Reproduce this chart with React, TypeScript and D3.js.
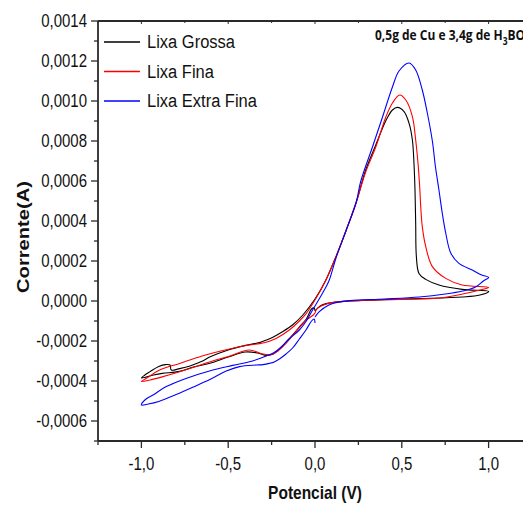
import React from "react";
import * as d3 from "d3";

type Pt = [number, number];

// Lixa Grossa (black): start at 0 V, cathodic branch to -1 V, anodic branch to +1 V, return to 0 V
const lixaGrossa: Pt[] = [
  [0.0, -0.00005], [-0.005, -0.000035], [-0.02, -0.00004], [-0.05, -0.00009], [-0.09, -0.00013],
  [-0.15, -0.00019], [-0.2, -0.000235], [-0.24, -0.000265], [-0.28, -0.000272], [-0.33, -0.00026],
  [-0.4, -0.000255], [-0.5, -0.00028], [-0.6, -0.00031], [-0.7, -0.00033], [-0.78, -0.000352],
  [-0.88, -0.000362], [-0.93, -0.00037], [-1.0, -0.000385],
  [-0.98, -0.00037], [-0.95, -0.000353], [-0.9, -0.000327], [-0.86, -0.000318], [-0.835, -0.00032],
  [-0.828, -0.000345], [-0.78, -0.000338], [-0.72, -0.000325], [-0.655, -0.000303], [-0.6, -0.000278],
  [-0.5, -0.000245], [-0.4, -0.000222], [-0.32, -0.000208], [-0.28, -0.000195], [-0.24, -0.00018],
  [-0.19, -0.000155], [-0.13, -0.00012], [-0.07, -0.00007], [0.0, 0.00001], [0.06, 0.0001],
  [0.12, 0.00022], [0.18, 0.000355], [0.24, 0.0005], [0.29, 0.00065], [0.35, 0.00078],
  [0.41, 0.000905], [0.446, 0.000955], [0.475, 0.000968], [0.513, 0.000947], [0.542, 0.000888],
  [0.561, 0.000805], [0.571, 0.000672], [0.576, 0.000555], [0.58, 0.000388], [0.584, 0.000222],
  [0.599, 0.000138], [0.638, 0.000108], [0.714, 0.00008], [0.848, 0.000058], [1.0, 0.000048],
  [0.95, 0.00003], [0.85, 0.00002], [0.6, 0.000012], [0.4, 0.000007], [0.2, 0.0],
  [0.12, -0.000005], [0.07, -0.000012], [0.03, -0.000025], [0.0, -0.00005],
];

// Lixa Fina (red)
const lixaFina: Pt[] = [
  [0.0, -0.00006], [-0.01, -0.00007], [-0.05, -0.000095], [-0.11, -0.000153], [-0.167, -0.000212],
  [-0.224, -0.000257], [-0.253, -0.000268], [-0.3, -0.000265], [-0.38, -0.000245], [-0.49, -0.000275],
  [-0.59, -0.0003], [-0.72, -0.000337], [-0.876, -0.000378], [-0.95, -0.000395], [-1.0, -0.000403],
  [-0.96, -0.00038], [-0.895, -0.000345], [-0.78, -0.000312], [-0.65, -0.000275], [-0.493, -0.00024],
  [-0.38, -0.00022], [-0.3, -0.00021], [-0.224, -0.000187], [-0.148, -0.000145], [-0.09, -0.0001],
  [-0.05, -0.000062], [0.0, 0.000005], [0.06, 0.0001], [0.12, 0.00022], [0.18, 0.000355],
  [0.24, 0.0005], [0.29, 0.00064], [0.35, 0.00077], [0.408, 0.00092], [0.446, 0.00099],
  [0.488, 0.00103], [0.523, 0.001005], [0.561, 0.000922], [0.58, 0.000805], [0.595, 0.000672],
  [0.603, 0.000572], [0.609, 0.000472], [0.618, 0.000372], [0.638, 0.000272], [0.676, 0.000172],
  [0.753, 0.000113], [0.848, 0.00008], [1.0, 0.000068],
  [0.95, 0.000055], [0.85, 0.000035], [0.72, 0.000015], [0.6, 0.00001], [0.4, 0.000006],
  [0.2, 0.0], [0.1, -0.000008], [0.05, -0.00002], [0.01, -0.00004], [0.0, -0.00006],
];

// Lixa Extra Fina (blue)
const lixaExtraFina: Pt[] = [
  [0.0, -0.00011], [-0.005, -0.00009], [-0.02, -0.0001], [-0.052, -0.000145], [-0.09, -0.00019],
  [-0.129, -0.000235], [-0.167, -0.000265], [-0.205, -0.00029], [-0.235, -0.000305], [-0.263, -0.000312],
  [-0.3, -0.000318], [-0.339, -0.00032], [-0.435, -0.000328], [-0.511, -0.00035], [-0.6, -0.00039],
  [-0.7, -0.00043], [-0.8, -0.000468], [-0.9, -0.000502], [-0.96, -0.000515], [-1.0, -0.00052],
  [-0.98, -0.000495], [-0.933, -0.00047], [-0.857, -0.000428], [-0.743, -0.000387], [-0.608, -0.00035],
  [-0.474, -0.000322], [-0.36, -0.0003], [-0.28, -0.000275], [-0.24, -0.00026], [-0.2, -0.000235],
  [-0.15, -0.00019], [-0.09, -0.000145], [-0.05, -0.0001], [-0.014, -0.000045], [0.044, 0.00004],
  [0.08, 0.0001], [0.121, 0.000215], [0.178, 0.00035], [0.236, 0.00049], [0.264, 0.0006],
  [0.331, 0.00077], [0.389, 0.00092], [0.446, 0.00107], [0.484, 0.00115], [0.542, 0.00119],
  [0.58, 0.001155], [0.618, 0.001055], [0.647, 0.00094], [0.676, 0.0008], [0.694, 0.00067],
  [0.714, 0.000555], [0.733, 0.00044], [0.753, 0.00034], [0.782, 0.00024], [0.829, 0.000188],
  [0.906, 0.000155], [0.96, 0.00013], [1.0, 0.000118],
  [0.97, 0.0001], [0.925, 0.00007], [0.85, 0.00005], [0.75, 0.000035], [0.6, 0.00002],
  [0.4, 0.00001], [0.2, 0.000002], [0.12, -0.000008], [0.08, -0.00002], [0.025, -0.000053],
  [0.0, -0.00008],
];

const seriesNames = ["Lixa Grossa", "Lixa Fina", "Lixa Extra Fina"];
const seriesColors = ["#000000", "#ff0000", "#0000ff"];
const seriesData = [lixaGrossa, lixaFina, lixaExtraFina];

const xMajorTicks = [-1, -0.5, 0, 0.5, 1];
const xMinorTicks = [-1.25, -0.75, -0.25, 0.25, 0.75, 1.25];
const yMajorTicks = [-0.0006, -0.0004, -0.0002, 0, 0.0002, 0.0004, 0.0006, 0.0008, 0.001, 0.0012, 0.0014];
const yMinorTicks = [-0.0007, -0.0005, -0.0003, -0.0001, 0.0001, 0.0003, 0.0005, 0.0007, 0.0009, 0.0011, 0.0013];

const xTitle = "Potencial (V)";
const yTitle = "Corrente(A)";
const annotation = ["0,5g de Cu e 3,4g de H", "3", "BO", "3"];

const W = 523;
const H = 505;
const left = 98;
const top = 21;
const bottom = 441;

const locale = d3.formatLocale({
  decimal: ",",
  thousands: ".",
  grouping: [3],
  currency: ["", ""],
  minus: "-",
});
const fmtX = locale.format(".1f");
const fmtY = locale.format(".4f");

const FONT = "'Liberation Sans', Arial, sans-serif";

export default function App() {
  const x = d3.scaleLinear().domain([-1.25, 1.25]).range([left, left + 434]);
  const y = d3.scaleLinear().domain([-0.0007, 0.0014]).range([bottom, top]);
  const line = d3
    .line<Pt>()
    .x((d) => x(d[0]))
    .y((d) => y(d[1]))
    .curve(d3.curveCatmullRom.alpha(0.5));

  const axisColor = "#2a2a2a";
  const sy = 1.2;

  return (
    <svg
      width={W}
      height={H}
      style={{ position: "absolute", left: 0, top: 0, background: "#fff" }}
    >
      <rect x={0} y={0} width={W} height={H} fill="#fff" />
      {/* data */}
      {seriesData.map((s, i) => (
        <path key={i} d={line(s) || ""} fill="none" stroke={seriesColors[i]} strokeWidth={1.1} />
      ))}

      {/* axes */}
      <line x1={left} x2={W + 20} y1={top} y2={top} stroke={axisColor} strokeWidth={1.8} />
      <line x1={left} x2={W + 20} y1={bottom} y2={bottom} stroke={axisColor} strokeWidth={1.8} />
      <line x1={left} x2={left} y1={top} y2={bottom} stroke={axisColor} strokeWidth={1.8} />

      {xMajorTicks.map((t) => (
        <g key={"xm" + t}>
          <line x1={x(t)} x2={x(t)} y1={bottom} y2={bottom + 7} stroke={axisColor} strokeWidth={1.3} />
          <line x1={x(t)} x2={x(t)} y1={top} y2={top + 3} stroke={axisColor} strokeWidth={1} />
          <text
            transform={`translate(${x(t)},${bottom + 29}) scale(1,${sy})`}
            textAnchor="middle"
            fontFamily={FONT}
            fontSize={15}
            fill="#111"
          >
            {fmtX(t)}
          </text>
        </g>
      ))}
      {xMinorTicks.map((t) => (
        <g key={"xn" + t}>
          <line x1={x(t)} x2={x(t)} y1={bottom} y2={bottom + 4} stroke={axisColor} strokeWidth={1.3} />
          <line x1={x(t)} x2={x(t)} y1={top} y2={top + 2} stroke={axisColor} strokeWidth={1} />
        </g>
      ))}
      {yMajorTicks.map((t) => (
        <g key={"ym" + t}>
          <line x1={left - 7} x2={left} y1={y(t)} y2={y(t)} stroke={axisColor} strokeWidth={1.3} />
          <text
            transform={`translate(${left - 11},${y(t) + 6}) scale(1,${sy})`}
            textAnchor="end"
            fontFamily={FONT}
            fontSize={15}
            fill="#111"
          >
            {fmtY(t)}
          </text>
        </g>
      ))}
      {yMinorTicks.map((t) => (
        <line key={"yn" + t} x1={left - 4} x2={left} y1={y(t)} y2={y(t)} stroke={axisColor} strokeWidth={1.3} />
      ))}

      {/* axis titles */}
      <text
        transform={`translate(${x(0)},${499}) scale(1,${sy})`}
        textAnchor="middle"
        fontFamily={FONT}
        fontWeight="bold"
        fontSize={15.5}
        fill="#111"
      >
        {xTitle}
      </text>
      <text
        transform={`translate(29,237) rotate(-90) scale(${sy},1)`}
        textAnchor="middle"
        fontFamily={FONT}
        fontWeight="bold"
        fontSize={16.8}
        fill="#111"
      >
        {yTitle}
      </text>

      {/* legend */}
      {seriesNames.map((n, i) => (
        <g key={n}>
          <line x1={104} x2={140} y1={42 + i * 29.5} y2={42 + i * 29.5} stroke={seriesColors[i]} strokeWidth={1.5} />
          <text
            transform={`translate(147,${42 + i * 29.5 + 6}) scale(1,1.1)`}
            fontFamily={FONT}
            fontSize={16.5}
            fill="#111"
          >
            {n}
          </text>
        </g>
      ))}

      {/* annotation */}
      <text
        transform={`translate(375,40) scale(1,${sy})`}
        fontFamily="'Open Sans', 'Noto Sans', sans-serif"
        fontWeight="bold"
        fontSize={12}
        fill="#111"
      >
        {annotation[0]}
        <tspan dy={4} fontSize={8.5}>{annotation[1]}</tspan>
        <tspan dy={-4}>{annotation[2]}</tspan>
        <tspan dy={4} fontSize={8.5}>{annotation[3]}</tspan>
      </text>
    </svg>
  );
}
